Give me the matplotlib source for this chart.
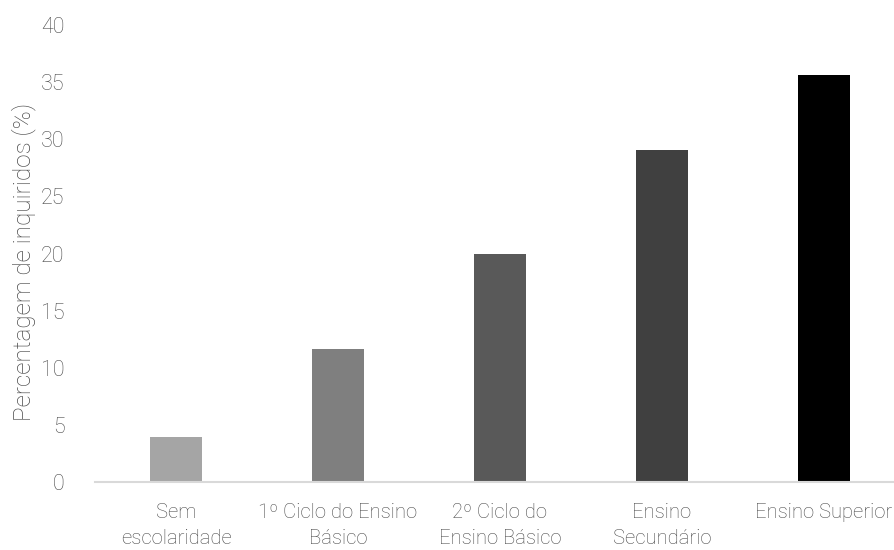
import matplotlib.pyplot as plt

# education level categories and share of respondents (%)
categories = ["Sem\nescolaridade", "1º Ciclo do Ensino\nBásico", "2º Ciclo do\nEnsino Básico",
              "Ensino\nSecundário", "Ensino Superior"]
values = [3.9, 11.6, 20.0, 29.1, 35.6]
bar_colors = ["#A5A5A5", "#7F7F7F", "#595959", "#404040", "#000000"]
yticks = [0, 5, 10, 15, 20, 25, 30, 35, 40]

plt.rcParams['font.family'] = ['Roboto', 'DejaVu Sans']
txt = "#4a4a4a"
fw = 'light'

fig = plt.figure(figsize=(8.94, 5.5), dpi=100)
W, H = 894, 550
ax = fig.add_axes([95 / W, 68 / H, 810 / W, 457 / H])

x = range(len(categories))
ax.bar(x, values, width=0.315, color=bar_colors, zorder=2)

ax.set_xlim(-0.5, len(categories) - 0.5)
ax.set_ylim(0, 40)
ax.set_yticks(yticks)
ax.set_xticks(list(x))
ax.set_xticklabels(categories, fontsize=14.6, color=txt, fontweight=fw, linespacing=1.5)
ax.set_yticklabels([str(t) for t in yticks], fontsize=15.5, color=txt, fontweight=fw)
ax.tick_params(axis='both', length=0)
ax.tick_params(axis='y', pad=22)
ax.tick_params(axis='x', pad=15)

for s in ['top', 'right', 'left']:
    ax.spines[s].set_visible(False)
ax.spines['bottom'].set_color("#D9D9D9")
ax.spines['bottom'].set_linewidth(1.5)

fig.text(24 / W, 1 - 262 / H, "Percentagem de inquiridos (%)", rotation=90, fontsize=17.5,
         color=txt, fontweight=fw, ha='center', va='center')

fig.savefig("out.png", dpi=100)
